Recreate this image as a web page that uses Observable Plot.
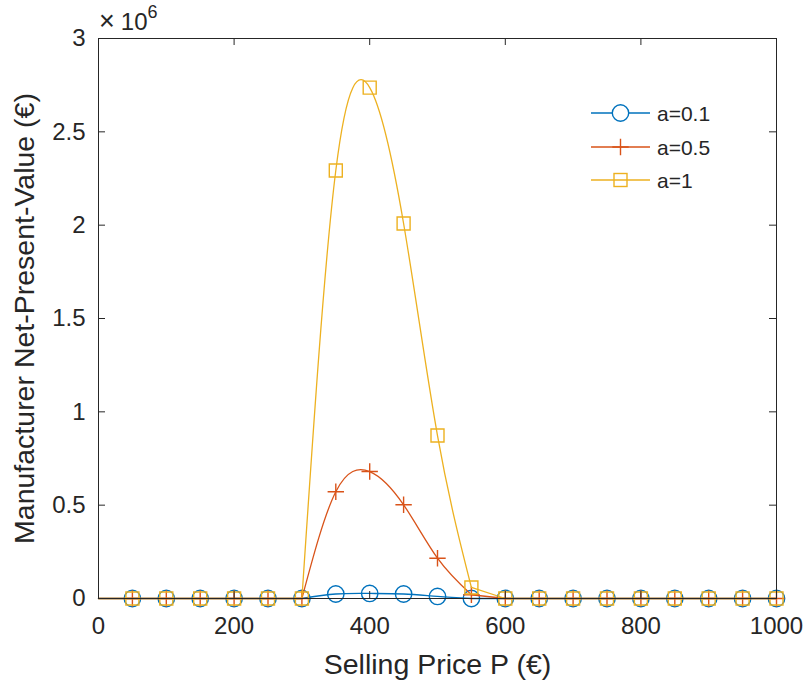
<!DOCTYPE html>
<html><head><meta charset="utf-8">
<script src="https://cdn.jsdelivr.net/npm/d3@7"></script>
<script src="https://cdn.jsdelivr.net/npm/@observablehq/plot@0.6"></script>
<style>body{margin:0;background:#fff;} #chart{width:809px;height:688px;}</style>
</head><body><div id="chart"></div>
<script>
// ---- data ----
const prices = [50,100,150,200,250,300,350,400,450,500,550,600,650,700,750,800,850,900,950,1000];
const lineStart = 0;      // curves start at P = 0
const onset = 300;        // start of the smooth hump
const offset = 550;       // end of the smooth hump
const seriesNames = ["a=0.1", "a=0.5", "a=1"];
const seriesColors = ["#0072BD", "#D95319", "#EDB120"];
const npvA01 = [0,0,0,0,0,0, 24000, 27000, 24000, 11000, 0, 0,0,0,0,0,0,0,0,0];
const npvA05 = [0,0,0,0,0,0, 572000, 680000, 502000, 216000, 20000, 0,0,0,0,0,0,0,0,0];
const npvA1  = [0,0,0,0,0,0, 2293000, 2737000, 2009000, 873000, 59000, 0,0,0,0,0,0,0,0,0];
const xTicks = [0,200,400,600,800,1000];
const yTicks = [0,500000,1000000,1500000,2000000,2500000,3000000];
const yTickLabels = ["0","0.5","1","1.5","2","2.5","3"];
const xLabel = "Selling Price P (€)";
const yLabel = "Manufacturer Net-Present-Value (€)";

const seriesValues = [npvA01, npvA05, npvA1];

// ---- geometry ----
const W = 809, H = 688, mL = 98, mR = 33, mT = 38, mB = 90;
const plotW = W - mL - mR, plotH = H - mT - mB;
const tickLen = 7;
const FONT = "'Liberation Sans', Arial, Helvetica, sans-serif";
const INK = "#262626";

const plusSymbol = {draw(ctx, size){ const r = Math.sqrt(size/Math.PI); ctx.moveTo(-r,0); ctx.lineTo(r,0); ctx.moveTo(0,-r); ctx.lineTo(0,r); }};
const squareSymbol = {draw(ctx, size){ const r = Math.sqrt(size/Math.PI); ctx.moveTo(-r,-r); ctx.lineTo(r,-r); ctx.lineTo(r,r); ctx.lineTo(-r,r); ctx.closePath(); }};
const symbols = ["circle", plusSymbol, squareSymbol];
const symbolR = [8.2, 8.2, 6.5];

// build tables
const markerRows = [];
const flatRows = [];
const humpRows = [];
seriesNames.forEach((name, s) => {
  const vals = seriesValues[s];
  const pts = [{x: lineStart, y: 0}].concat(prices.map((p, i) => ({x: p, y: vals[i]})));
  pts.forEach(p => {
    if (p.x <= onset) flatRows.push({...p, s, seg: name + "-pre"});
    if (p.x >= offset) flatRows.push({...p, s, seg: name + "-post"});
    if (p.x >= onset && p.x <= offset) humpRows.push({...p, s, seg: name});
  });
  prices.forEach((p, i) => markerRows.push({x: p, y: vals[i], s}));
});

const marks = [];
seriesNames.forEach((name, s) => {
  const c = seriesColors[s];
  marks.push(Plot.line(flatRows.filter(d => d.s === s), {x: "x", y: "y", z: "seg", stroke: c, strokeWidth: 1.3}));
  marks.push(Plot.line(humpRows.filter(d => d.s === s), {x: "x", y: "y", stroke: c, strokeWidth: 1.3, curve: "natural"}));
  marks.push(Plot.dot(markerRows.filter(d => d.s === s), {x: "x", y: "y", symbol: () => symbols[s], r: symbolR[s], stroke: c, fill: "none", strokeWidth: 1.4}));
});

const chart = Plot.plot({
  width: W, height: H,
  marginLeft: mL, marginRight: mR, marginTop: mT, marginBottom: mB,
  x: {domain: [0, 1000]},
  y: {domain: [0, 3000000]},
  symbol: {type: "identity"},
  style: {fontFamily: FONT, color: INK, background: "white", overflow: "visible"},
  marks: [
    ...marks,
    Plot.frame({stroke: INK, strokeWidth: 1}),
    Plot.ruleX(xTicks, {x: d => d, insetTop: plotH - tickLen, stroke: INK}),
    Plot.ruleX(xTicks, {x: d => d, insetBottom: plotH - tickLen, stroke: INK}),
    Plot.ruleY(yTicks, {y: d => d, insetRight: plotW - tickLen, stroke: INK}),
    Plot.ruleY(yTicks, {y: d => d, insetLeft: plotW - tickLen, stroke: INK}),
    Plot.axisX(xTicks, {tickSize: 0, tickPadding: 18, fontSize: 24, label: null, fill: INK, tickFormat: d => String(d)}),
    Plot.axisY(yTicks, {tickSize: 0, tickPadding: 13, fontSize: 24, label: null, fill: INK,
      tickFormat: d => yTickLabels[yTicks.indexOf(d)]}),
    Plot.text([xLabel], {text: d => d, frameAnchor: "bottom", dy: 66, fontSize: 28.5, fill: INK, lineAnchor: "middle", textAnchor: "middle"}),
    Plot.text([yLabel], {text: d => d, frameAnchor: "left", dx: -74, rotate: -90, fontSize: 28.5, fill: INK, lineAnchor: "middle", textAnchor: "middle"})
  ]
});

// exponent label and legend
const svg = d3.select(chart);
const ex = svg.append("text").attr("x", mL + 1).attr("y", 30).attr("text-anchor", "start").style("font-family", FONT).attr("fill", INK);
ex.append("tspan").style("font-size", "27px").text("×");
ex.append("tspan").style("font-size", "24px").attr("dx", 6).text("10");
ex.append("tspan").style("font-size", "18px").attr("dy", -12).text("6");

const leg = svg.append("g");
const rowY = [113, 147, 180];
seriesNames.forEach((name, s) => {
  const y = rowY[s], c = seriesColors[s];
  leg.append("line").attr("x1", 591).attr("x2", 650).attr("y1", y).attr("y2", y).attr("stroke", c).attr("stroke-width", 1.3);
  const r = symbolR[s];
  if (s === 0) leg.append("circle").attr("cx", 620.5).attr("cy", y).attr("r", r).attr("fill", "white").attr("stroke", c).attr("stroke-width", 1.4);
  else if (s === 1) leg.append("path").attr("d", `M${620.5-r},${y}H${620.5+r}M620.5,${y-r}V${y+r}`).attr("stroke", c).attr("stroke-width", 1.4);
  else leg.append("rect").attr("x", 620.5-r).attr("y", y-r).attr("width", 2*r).attr("height", 2*r).attr("fill", "none").attr("stroke", c).attr("stroke-width", 1.4);
  leg.append("text").attr("x", 657).attr("y", y).attr("dy", "0.36em").attr("text-anchor", "start")
    .style("font-family", FONT).style("font-size", "21px").attr("fill", INK).text(name);
});

document.getElementById("chart").appendChild(chart);
</script></body></html>
